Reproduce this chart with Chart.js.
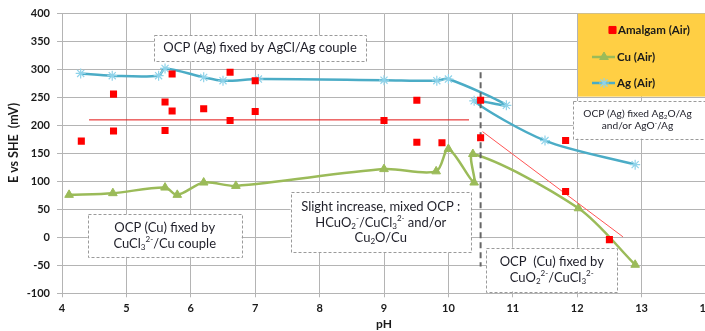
<!DOCTYPE html>
<html>
<head>
<meta charset="utf-8">
<script src="https://cdn.jsdelivr.net/npm/chart.js@4/dist/chart.umd.min.js"></script>
<style>
  html, body { margin: 0; padding: 0; background: #ffffff; overflow: hidden; }
  #wrap { width: 730px; height: 331px; }
</style>
</head>
<body>
<div id="wrap"><canvas id="c" width="730" height="331"></canvas></div>
<script>
// ---------------- data ----------------
const xTicks = [4, 5, 6, 7, 8, 9, 10, 11, 12, 13, 14];
const yTicks = [-100, -50, 0, 50, 100, 150, 200, 250, 300, 350, 400];

const amalgamPH = [4.3, 4.8, 4.8, 5.6, 5.6, 5.71, 5.71, 6.2, 6.61, 6.61, 7.0, 7.0, 9.0, 9.51, 9.51, 9.9, 10.5, 10.5, 11.82, 11.82, 12.5];
const amalgamE  = [172, 256, 190, 242, 191, 292, 226, 230, 295, 209, 280, 225, 209, 245, 170, 169, 245, 178, 173, 82, -4];

const cuPH = [4.11, 4.79, 5.6, 5.79, 6.2, 6.7, 9.0, 9.81, 10.0, 10.4, 10.38, 12.02, 12.9];
const cuE  = [76, 79, 89, 76, 98, 92, 122, 118, 158, 98, 149, 52, -49];

const agPH = [4.29, 4.78, 5.5, 5.6, 6.2, 6.5, 7.05, 9.0, 9.82, 10.0, 10.9, 10.4, 11.5, 12.9];
const agE  = [293, 289, 289, 302, 286, 280, 283, 281, 280, 283, 236, 244, 173, 130];

const amalgamMeanPH = [4.42, 10.32];
const amalgamMeanE  = [210, 210];
const amalgamSlopePH = [10.53, 12.71];
const amalgamSlopeE  = [189, 1];
const limitPH = [10.5, 10.5];
const limitE  = [295, -52];

const seriesNames = ["Amalgam (Air)", "Cu (Air)", "Ag (Air)"];

function pts(xs, ys) { return xs.map((x, i) => ({ x: x, y: ys[i] })); }

// ---------------- annotations (text) ----------------
// segments: [text, kind] with kind '' | 'sub' | 'sup'
const notes = [
  { box: [5.43, 361.6, 8.72, 314.7], size: 13,
    lines: [[["OCP (Ag) fixed by AgCl/Ag couple", ""]]] },
  { box: [11.94, 243.7, 14.2, 176.5], size: 10.2, cx: 637.5,
    lines: [[["OCP (Ag) fixed Ag", ""], ["2", "sub"], ["O/Ag", ""]],
            [["and/or AgO", ""], ["-", "sup"], ["/Ag", ""]]] },
  { box: [4.4, 41.4, 6.79, -34.8], size: 13,
    lines: [[["OCP (Cu) fixed by", ""]],
            [["CuCl", ""], ["3", "sub"], ["2-", "sup"], ["/Cu couple", ""]]] },
  { box: [7.55, 80.9, 10.35, -27.2], size: 13,
    lines: [[["Slight increase, mixed OCP :", ""]],
            [["HCuO", ""], ["2", "sub"], ["-", "sup"], ["/CuCl", ""], ["3", "sub"], ["2-", "sup"], [" and/or", ""]],
            [["Cu", ""], ["2", "sub"], ["O/Cu", ""]]] },
  { box: [10.59, -18.5, 12.62, -96.6], size: 13,
    lines: [[["OCP  (Cu) fixed by", ""]],
            [["CuO", ""], ["2", "sub"], ["2-", "sup"], ["/CuCl", ""], ["3", "sub"], ["2-", "sup"]]] }
];

const FONT = "Lato, 'Open Sans', 'Liberation Sans', sans-serif";

function richWidth(ctx, segs, size) {
  let w = 0;
  for (const [t, k] of segs) {
    const s = k ? size * 0.62 : size;
    ctx.font = s + "px " + FONT;
    w += ctx.measureText(t).width;
  }
  return w;
}
function drawRich(ctx, segs, cx, cy, size) {
  const w = richWidth(ctx, segs, size);
  let x = cx - w / 2;
  ctx.textBaseline = "middle";
  ctx.textAlign = "left";
  for (const [t, k] of segs) {
    const s = k ? size * 0.62 : size;
    let dy = 0;
    if (k === "sub") dy = size * 0.28;
    if (k === "sup") dy = -size * 0.32;
    ctx.font = s + "px " + FONT;
    ctx.fillText(t, x, cy + dy);
    x += ctx.measureText(t).width;
  }
}

const overlayPlugin = {
  id: "overlay",
  afterDraw(chart) {
    const ctx = chart.ctx;
    const xs = chart.scales.x, ys = chart.scales.y;
    ctx.save();
    // annotation boxes
    for (const n of notes) {
      const x1 = xs.getPixelForValue(n.box[0]), y1 = ys.getPixelForValue(n.box[1]);
      const x2 = xs.getPixelForValue(n.box[2]), y2 = ys.getPixelForValue(n.box[3]);
      ctx.fillStyle = "#ffffff";
      ctx.fillRect(x1, y1, x2 - x1, y2 - y1);
      ctx.setLineDash([3, 2]);
      ctx.strokeStyle = "#9a9a9a";
      ctx.lineWidth = 1;
      ctx.strokeRect(Math.round(x1) + 0.5, Math.round(y1) + 0.5, Math.round(x2 - x1), Math.round(y2 - y1));
      ctx.setLineDash([]);
      ctx.fillStyle = "#1e1e28";
      const cx = n.cx !== undefined ? n.cx : (x1 + x2) / 2;
      const cy = (y1 + y2) / 2;
      const lh = n.size * 1.22;
      const top = cy - lh * (n.lines.length - 1) / 2;
      n.lines.forEach((segs, i) => drawRich(ctx, segs, cx, top + i * lh, n.size));
    }
    // legend box
    const lx = 578, ly = chart.chartArea.top, lw = 160, lh2 = 83;
    ctx.fillStyle = "#ffcf44";
    ctx.fillRect(lx, ly, lw, lh2);
    const metas = [0, 4, 5].map(i => chart.data.datasets[i]);
    const rows = [30, 57, 83];
    rows.forEach((ry, i) => {
      const ds = metas[i];
      if (i > 0) {
        ctx.strokeStyle = ds.borderColor;
        ctx.lineWidth = 2.5;
        ctx.beginPath(); ctx.moveTo(592, ry); ctx.lineTo(615, ry); ctx.stroke();
      }
      ctx.fillStyle = ds.pointBackgroundColor;
      ctx.strokeStyle = ds.pointBorderColor;
      ctx.lineWidth = ds.pointBorderWidth || 1;
      Chart.helpers.drawPoint(ctx, {
        pointStyle: ds.pointStyle, radius: ds.pointRadius, borderWidth: ds.pointBorderWidth || 1, rotation: 0
      }, i === 0 ? 612.5 : 604, ry);
      ctx.fillStyle = "#1a1a1a";
      ctx.font = "bold 11.5px " + FONT;
      ctx.textBaseline = "middle";
      ctx.textAlign = "left";
      ctx.fillText(seriesNames[i], i === 0 ? 618 : 617, ry);
    });
    // y-axis title
    ctx.save();
    ctx.translate(14, 143);
    ctx.rotate(-Math.PI / 2);
    ctx.textAlign = "center";
    ctx.textBaseline = "middle";
    ctx.fillStyle = "#1a1a1a";
    ctx.font = "bold 12.5px " + FONT;
    ctx.fillText("E vs SHE  (mV)", 0, 0);
    ctx.restore();
    ctx.restore();
  }
};

const gridColor = "#b4b4b4";

new Chart(document.getElementById("c"), {
  type: "scatter",
  data: {
    datasets: [
      { label: seriesNames[0], data: pts(amalgamPH, amalgamE), showLine: false,
        pointStyle: "rect", pointRadius: 5, pointBackgroundColor: "#ff0000",
        pointBorderColor: "#ff0000", pointBorderWidth: 0, borderColor: "#ff0000" },
      { data: pts(amalgamMeanPH, amalgamMeanE), showLine: true, pointRadius: 0,
        borderColor: "#e31010", borderWidth: 1 },
      { data: pts(amalgamSlopePH, amalgamSlopeE), showLine: true, pointRadius: 0,
        borderColor: "#ff5555", borderWidth: 1 },
      { data: pts(limitPH, limitE), showLine: true, pointRadius: 0,
        borderColor: "#666666", borderWidth: 2, borderDash: [6, 4] },
      { label: seriesNames[1], data: pts(cuPH, cuE), showLine: true,
        borderColor: "#9bbb59", borderWidth: 2.5, tension: 0.3,
        pointStyle: "triangle", pointRadius: 5, pointBackgroundColor: "#9bbb59",
        pointBorderColor: "#9bbb59", pointBorderWidth: 1 },
      { label: seriesNames[2], data: pts(agPH, agE), showLine: true,
        borderColor: "#4bacc6", borderWidth: 2.5, tension: 0.3,
        pointStyle: "star", pointRadius: 5, pointBackgroundColor: "#8fd3ea",
        pointBorderColor: "#8fd3ea", pointBorderWidth: 1.2 }
    ]
  },
  options: {
    responsive: false,
    animation: false,
    devicePixelRatio: 1,
    layout: { padding: { top: 10, right: 24, left: 0, bottom: 0 } },
    plugins: { legend: { display: false }, tooltip: { enabled: false } },
    scales: {
      x: {
        type: "linear", min: 4, max: 14,
        afterBuildTicks: (s) => { s.ticks = xTicks.map(v => ({ value: v })); },
        afterFit: (s) => { s.height = 37.7; },
        grid: { color: gridColor, lineWidth: 1, tickLength: 4 },
        border: { color: gridColor },
        ticks: { color: "#1a1a1a", font: { family: FONT, size: 11, weight: "bold" }, padding: 5, maxRotation: 0 },
        title: { display: true, text: "pH", color: "#1a1a1a", font: { family: FONT, size: 12, weight: "bold" }, padding: { top: 0, bottom: 0 } }
      },
      y: {
        type: "linear", min: -100, max: 400,
        afterBuildTicks: (s) => { s.ticks = yTicks.map(v => ({ value: v })); },
        afterFit: (s) => { s.width = 62; },
        grid: { color: gridColor, lineWidth: 1, tickLength: 5 },
        border: { color: gridColor },
        ticks: { color: "#1a1a1a", font: { family: FONT, size: 11, weight: "bold" }, padding: 7 }
      }
    }
  },
  plugins: [overlayPlugin]
});
</script>
</body>
</html>
